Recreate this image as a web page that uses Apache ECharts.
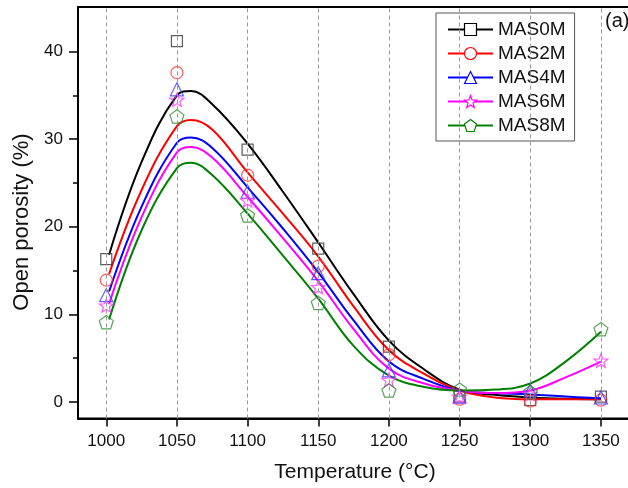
<!DOCTYPE html>
<html><head><meta charset="utf-8">
<script src="https://cdn.jsdelivr.net/npm/echarts@6/dist/echarts.min.js"></script>
<style>html,body{margin:0;padding:0;background:#fff}#c{width:628px;height:488px}</style>
</head><body><div id="c"></div>
<script>
// ---- data ----
const temps = [1000, 1050, 1100, 1150, 1200, 1250, 1300, 1350];
const names = ['MAS0M', 'MAS2M', 'MAS4M', 'MAS6M', 'MAS8M'];
const mas0m = [16.3, 41.2, 28.8, 17.5, 6.3, 0.6, 0.2, 0.6];
const mas2m = [13.9, 37.6, 25.9, 15.5, 5.4, 0.3, 0.1, 0.2];
const mas4m = [12.2, 35.7, 24.0, 14.7, 3.6, 0.6, 1.3, 0.5];
const mas6m = [11.0, 34.5, 23.0, 13.1, 2.5, 0.6, 0.9, 4.7];
const mas8m = [9.1, 32.6, 21.3, 11.3, 1.3, 1.4, 1.1, 8.3];
// fitted curves
const fitT    = [1002, 1025, 1050, 1060, 1075, 1100, 1125, 1150, 1175, 1200, 1225, 1250, 1275, 1300, 1325, 1350];
const fit0m   = [16.8, 27.4, 35.0, 35.5, 34.0, 29.5, 24.0, 18.2, 12.3, 7.0, 3.7, 1.4, 0.8, 0.5, 0.35, 0.3];
const fit2m   = [14.6, 24.2, 31.5, 32.2, 31.1, 26.2, 21.5, 16.6, 10.9, 5.9, 3.2, 1.3, 0.5, 0.3, 0.3, 0.3];
const fit4m   = [12.6, 22.3, 29.6, 30.2, 29.0, 24.5, 19.8, 14.8, 9.3, 4.6, 2.6, 1.3, 1.0, 0.85, 0.6, 0.4];
const fit6m   = [11.2, 21.1, 28.5, 29.1, 27.9, 23.4, 18.7, 13.8, 8.3, 3.8, 2.1, 1.3, 1.0, 1.3, 2.8, 4.6];
const fit8m   = [9.4, 19.6, 26.7, 27.3, 25.9, 21.5, 16.7, 11.8, 6.4, 3.0, 1.7, 1.3, 1.4, 2.1, 4.6, 8.0];
const yTicks = [0, 10, 20, 30, 40];
const yMinorTicks = [5, 15, 25, 35];

// ---- styles ----
const FONT = "'Liberation Sans', Arial, sans-serif";
function polyPath(n, rIn) {
  const pts = [];
  const steps = rIn ? n * 2 : n;
  for (let i = 0; i < steps; i++) {
    const r = rIn && (i % 2) ? rIn : 1;
    const a = -Math.PI / 2 + i * 2 * Math.PI / steps;
    pts.push((r * Math.cos(a)).toFixed(3) + ',' + (r * Math.sin(a)).toFixed(3));
  }
  return 'path://M' + pts.join('L') + 'Z';
}
const styles = [
  { line: '#000000', mark: '#333333', symbol: 'rect', size: 11 },
  { line: '#ff0000', mark: '#ff3333', symbol: 'circle', size: 12 },
  { line: '#0000ff', mark: '#3333ff', symbol: 'triangle', size: 13 },
  { line: '#ff00ff', mark: '#ff33ff', symbol: polyPath(5, 0.42), size: 14 },
  { line: '#008000', mark: '#2e8b2e', symbol: polyPath(5, 0), size: 14 }
];
const pts = [mas0m, mas2m, mas4m, mas6m, mas8m];
const fits = [fit0m, fit2m, fit4m, fit6m, fit8m];

const series = [];
series.push({
  type: 'line', name: '_grid', data: [], silent: true, z: 1,
  markLine: {
    silent: true, symbol: ['none', 'none'], label: { show: false },
    lineStyle: { color: '#9a9a9a', type: [4, 3], width: 1 },
    data: temps.map(t => ({ xAxis: t }))
  }
});
names.forEach((n, i) => {
  const s = styles[i];
  series.push({
    type: 'line', name: n, z: 2,
    data: fitT.map((t, k) => [t, fits[i][k]]),
    smooth: 0.4, showSymbol: false, symbol: s.symbol, symbolKeepAspect: true,
    lineStyle: { color: s.line, width: 2 },
    itemStyle: { color: 'transparent', borderColor: s.line, borderWidth: 1.2 }
  });
});
names.forEach((n, i) => {
  const s = styles[i];
  series.push({
    type: 'scatter', name: n, z: 3,
    data: temps.map((t, k) => [t, pts[i][k]]),
    symbol: s.symbol, symbolSize: s.size, symbolKeepAspect: true,
    itemStyle: { color: 'transparent', borderColor: s.mark, borderWidth: 1.2 }
  });
});

const chart = echarts.init(document.getElementById('c'), null, { renderer: 'canvas' });
chart.setOption({
  animation: false,
  backgroundColor: '#fff',
  grid: { left: 78, top: 7, width: 554, height: 411.5, outerBoundsMode: 'none', containLabel: false,
          show: true, borderColor: '#000', borderWidth: 2, backgroundColor: 'transparent' },
  xAxis: {
    type: 'value', min: 980, max: 1372,
    name: 'Temperature (°C)', nameLocation: 'middle', nameGap: 43,
    nameTextStyle: { fontSize: 21, fontFamily: FONT, color: '#111' },
    axisLine: { show: true, onZero: false, lineStyle: { color: '#000', width: 2 } },
    axisTick: { show: true, inside: false, length: 8, customValues: temps, lineStyle: { color: '#000', width: 1.5 } },
    axisLabel: { customValues: temps, formatter: v => String(v), fontSize: 17, fontFamily: FONT, color: '#111', margin: 14 },
    splitLine: { show: false }
  },
  yAxis: [{
    type: 'value', min: -1.9, max: 45.1,
    axisLine: { show: true, onZero: false, lineStyle: { color: '#000', width: 2 } },
    axisTick: { show: true, inside: false, length: 9, customValues: yTicks, lineStyle: { color: '#000', width: 1.5 } },
    axisLabel: { customValues: yTicks, formatter: v => String(v), fontSize: 17, fontFamily: FONT, color: '#111', margin: 15 },
    splitLine: { show: false }
  }, {
    type: 'value', min: -1.9, max: 45.1, position: 'left',
    axisLine: { show: false, onZero: false },
    axisTick: { show: true, inside: false, length: 5, customValues: yMinorTicks, lineStyle: { color: '#000', width: 1.5 } },
    axisLabel: { show: false },
    splitLine: { show: false }
  }],
  legend: {
    orient: 'vertical', left: 436, top: 13,
    data: names,
    itemWidth: 45, itemHeight: 15, itemGap: 5,
    padding: [7, 9, 6, 11],
    borderColor: '#555', borderWidth: 1, backgroundColor: '#fff',
    textStyle: { fontSize: 19, fontFamily: FONT, color: '#111' },
    itemStyle: { color: '#fff', borderWidth: 1.2 }
  },
  graphic: [
    { type: 'text', x: 22, y: 222, rotation: Math.PI / 2,
      style: { text: 'Open porosity (%)', font: '22px ' + FONT, fill: '#111', align: 'center', verticalAlign: 'middle', textAlign: 'center', textVerticalAlign: 'middle' } },
    { type: 'text', left: 605, top: 11,
      style: { text: '(a)', font: '20px ' + FONT, fill: '#111' } }
  ],
  series: series
});
</script>
</body></html>
